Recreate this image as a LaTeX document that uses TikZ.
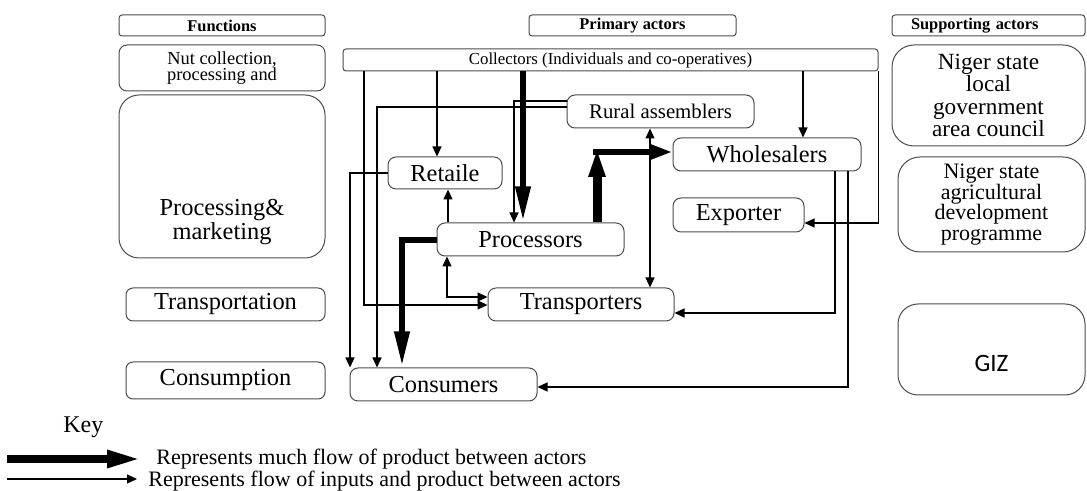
\documentclass[tikz,border=0pt]{standalone}
\usepackage{fontspec}
\setmainfont{Liberation Serif}
\newfontfamily\gizfont{Carlito}
\usetikzlibrary{arrows.meta}

\begin{document}
\begin{tikzpicture}
[
x=0.5pt, y=-0.5pt,
>={Triangle[length=5pt,width=4.5pt]},
Header/.style={rectangle, rounded corners=1.5pt, draw=black!70, line width=0.5pt, inner sep=0pt, font=\fontsize{8.2}{9}\selectfont\bfseries},
Function/.style={rectangle, rounded corners=4pt, draw=black!70, line width=0.5pt, inner sep=0pt, align=center, font=\fontsize{12.2}{12}\selectfont},
Actor/.style={rectangle, rounded corners=4pt, draw=black!70, line width=0.5pt, inner sep=0pt, font=\fontsize{12.2}{12}\selectfont},
Support/.style={rectangle, rounded corners=11pt, draw=black!70, line width=0.5pt, inner sep=0pt, align=center},
Thinline/.style={->, draw=black, line width=0.6pt},
Thickline/.style={-{Triangle[length=18pt,width=7pt]}, draw=black, line width=3.2pt},
Keytext/.style={anchor=west, inner sep=0pt, font=\fontsize{11}{11}\selectfont}
]
\useasboundingbox (0,0) rectangle (1087,491);

% column headers
\node[Header, minimum width=103pt, minimum height=10.5pt] (Functions) at (222,25.5) {Functions};
\node[Header, minimum width=103.5pt, minimum height=10.5pt] (Primary) at (632.5,25.5) {Primary actors};
\node[Header, minimum width=96.5pt, minimum height=10.5pt, inner xsep=9.5pt, text width=77.5pt, align=left] (Supporting) at (988.5,25.5) {Supporting actors};

% functions
\node[Function, minimum width=103pt, minimum height=23pt, font=\fontsize{9.2}{7.8}\selectfont] (Nut) at (222,68) {Nut collection,\\processing and};
\node[Function, rounded corners=10pt, minimum width=103pt, minimum height=81.5pt,
      label={[yshift=-22.75pt, align=center, font=\fontsize{12.2}{10.5}\selectfont]center:Processing\&\\marketing}] (Processing) at (222,176.5) {};
\node[Function, rounded corners=3.5pt, minimum width=99.5pt, minimum height=16.5pt] (Transportation) at (225.5,304.5) {Transportation};
\node[Function, rounded corners=3.5pt, minimum width=99.5pt, minimum height=18.5pt] (Consumption) at (225.5,380.5) {Consumption};

% primary actors
\node[Actor, rounded corners=1.5pt, minimum width=267.5pt, minimum height=11pt, font=\fontsize{8.4}{9}\selectfont] (Collectors) at (610.5,60) {Collectors (Individuals and co-operatives)};
\node[Actor, minimum width=93.5pt, minimum height=16.5pt, font=\fontsize{10.4}{11}\selectfont] (Rural) at (660.5,111.5) {Rural assemblers};
\node[Actor, minimum width=94pt, minimum height=16.5pt] (Wholesalers) at (767,154.5) {Wholesalers};
\node[Actor, minimum width=57pt, minimum height=16pt] (Retaile) at (445,173) {Retaile};
\node[Actor, minimum width=93.5pt, minimum height=16.5pt] (Processors) at (530.5,239.5) {Processors};
\node[Actor, minimum width=65.5pt, minimum height=17pt] (Exporter) at (738.5,215) {Exporter};
\node[Actor, minimum width=93pt, minimum height=16.5pt] (Transporters) at (581,304.5) {Transporters};
\node[Actor, minimum width=93.5pt, minimum height=16.5pt] (Consumers) at (443.5,384.5) {Consumers};

% supporting actors
\node[Support, minimum width=96.5pt, minimum height=50.5pt, font=\fontsize{11.6}{11.2}\selectfont] (LocalGov) at (988.5,95.5) {Niger state\\local\\government\\area council};
\node[Support, minimum width=93.5pt, minimum height=47.5pt, font=\fontsize{11}{10.3}\selectfont] (Adp) at (991.5,204.5) {Niger state\\agricultural\\development\\programme};
\node[Support, rounded corners=10pt, minimum width=93.5pt, minimum height=45.5pt,
      label={[yshift=-6.75pt, font=\gizfont\fontsize{12.5}{13}\selectfont]center:GIZ}] (Giz) at (991.5,349.5) {};

% flows from collectors
\draw[Thinline] (364,0 |- Collectors.south) |- (Transporters.west |- 0,305);
\draw[Thinline] (437,0 |- Collectors.south) -- (437,0 |- Retaile.north);
\draw[Thickline] (523,0 |- Collectors.south) -- (523,0 |- Processors.north);
\draw[Thinline] (803,0 |- Collectors.south) -- (803,0 |- Wholesalers.north);
\draw[Thinline] (Collectors.south east) |- (Exporter.east |- 0,223);

% flows from rural assemblers
\draw[Thinline] (Rural.west |- 0,107) -| (377,0 |- Consumers.north);
\draw[Thinline] (Rural.west |- 0,101) -| (514,0 |- Processors.north);
\draw[Thinline, <->] (650,0 |- Rural.south) -- (650,0 |- Transporters.north);

% flows from processors
\draw[Thinline] (448,0 |- Processors.north) -- (448,0 |- Retaile.south);
\draw[Thinline, <->] (447,0 |- Processors.south) |- (Transporters.west |- 0,297);
\draw[Thickline] (Processors.west |- 0,240) -| (402,0 |- Consumers.north);
\coordinate (Elbow) at (597,152);
\draw[Thickline, line width=4.5pt, -{Triangle[length=15pt,width=7.5pt]}] (Elbow |- Processors.north) -- ([yshift=2.5pt]Elbow);
\draw[Thickline, -{Triangle[length=11pt,width=7pt]}] ([xshift=-2pt]Elbow) -- (Elbow -| Wholesalers.west);

% flows from retaile and wholesalers
\draw[Thinline] (Retaile.west) -| (350,0 |- Consumers.north);
\draw[Thinline] (835,0 |- Wholesalers.south) |- (Transporters.east |- 0,313);
\draw[Thinline] (848,0 |- Wholesalers.south) |- (Consumers.east |- 0,387);

% key
\node[Keytext, anchor=base west, font=\fontsize{12}{12}\selectfont] (Key) at (63,433) {Key};
\node[Keytext] (MuchFlow) at (156,459) {Represents much flow of product between actors};
\node[Keytext] (Flow) at (148,481) {Represents flow of inputs and product between actors};
\coordinate (KeyA) at (7,459);
\coordinate (KeyB) at (7,479);
\draw[Thickline, line width=4pt, -{Triangle[length=17.5pt,width=8pt]}] (KeyA) -- ([xshift=-7pt]KeyA -| MuchFlow.west);
\draw[Thinline] (KeyB) -- ([xshift=-5.5pt]KeyB -| Flow.west);
\end{tikzpicture}
\end{document}
